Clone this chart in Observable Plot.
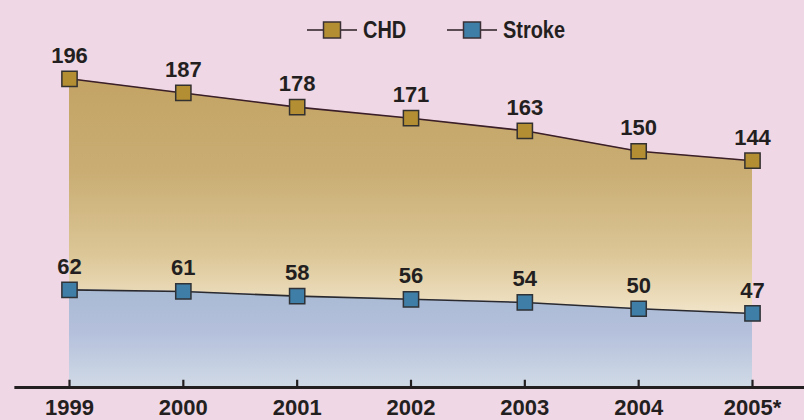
<!DOCTYPE html>
<html>
<head>
<meta charset="utf-8">
<script src="https://cdn.jsdelivr.net/npm/d3@7"></script>
<script src="https://cdn.jsdelivr.net/npm/@observablehq/plot@0.6"></script>
<style>
  html, body { margin: 0; padding: 0; background: #f0d7e5; width: 804px; height: 420px; overflow: hidden; }
  #legend { position: relative; height: 42px; width: 804px; font-family: "Liberation Sans", Arial, sans-serif; font-weight: bold; font-size: 24px; color: #231f20; }
  .item { position: absolute; top: 19px; display: flex; align-items: center; height: 22px; }
  .item svg { display: block; margin-right: 6px; }
  .item span { display: inline-block; transform: scaleX(0.83); transform-origin: left center; line-height: 22px; }
  #chart svg { display: block; overflow: visible; }
</style>
</head>
<body>
<div id="legend"></div>
<div id="chart"></div>
<script>
const years = [1999, 2000, 2001, 2002, 2003, 2004, 2005];
const yearLabels = ["1999", "2000", "2001", "2002", "2003", "2004", "2005*"];
const chdValues = [196, 187, 178, 171, 163, 150, 144];
const strokeValues = [62, 61, 58, 56, 54, 50, 47];
const seriesNames = ["CHD", "Stroke"];
const markerColors = ["#b38e33", "#3f7ea7"];

const rows = years.map((y, i) => ({year: y, label: yearLabels[i], chd: chdValues[i], stroke: strokeValues[i]}));

// Legend
const legend = document.getElementById("legend");
const legendLeft = [307, 447];
seriesNames.forEach((name, i) => {
  const div = document.createElement("div");
  div.className = "item";
  div.style.left = legendLeft[i] + "px";
  div.innerHTML = `<svg width="50" height="22"><line x1="0" x2="50" y1="11" y2="11" stroke="#2a1e22" stroke-width="1.5"/><rect x="16.5" y="3" width="17" height="16" fill="${markerColors[i]}" stroke="#3a3035" stroke-width="1.5"/></svg><span>${name}</span>`;
  legend.appendChild(div);
});

const font = "'Liberation Sans', Arial, sans-serif";

const plot = Plot.plot({
  width: 804,
  height: 378,
  marginLeft: 69,
  marginRight: 52,
  marginTop: 30,
  marginBottom: 33,
  x: {domain: [1999, 2005], axis: null},
  y: {domain: [0, 200], axis: null},
  style: {background: "transparent", fontFamily: font, overflow: "visible"},
  marks: [
    Plot.areaY(rows, {x: "year", y1: "stroke", y2: "chd", fill: "url(#gradChd)", curve: "linear"}),
    Plot.areaY(rows, {x: "year", y1: 0, y2: "stroke", fill: "url(#gradStroke)", curve: "linear"}),
    Plot.ruleY([0], {x1: 1998.52, x2: 2005.5, stroke: "#231f20", strokeWidth: 3}),
    Plot.ruleX(rows, {x: "year", y1: 0, y2: 4.6, stroke: "#231f20", strokeWidth: 2.2}),
    Plot.line(rows, {x: "year", y: "chd", stroke: "#3a1f2a", strokeWidth: 1.6}),
    Plot.line(rows, {x: "year", y: "stroke", stroke: "#2a2a2e", strokeWidth: 1.6}),
    Plot.dot(rows, {x: "year", y: "chd", symbol: "square", r: 8.6, fill: markerColors[0], stroke: "#333030", strokeWidth: 1.5}),
    Plot.dot(rows, {x: "year", y: "stroke", symbol: "square", r: 8.6, fill: markerColors[1], stroke: "#2f3236", strokeWidth: 1.5}),
    Plot.text(rows, {x: "year", y: "chd", text: d => String(d.chd), dy: -23, fontSize: 22, fontWeight: "bold", fill: "#231f20"}),
    Plot.text(rows, {x: "year", y: "stroke", text: d => String(d.stroke), dy: -23, fontSize: 22, fontWeight: "bold", fill: "#231f20"}),
    Plot.text(rows, {x: "year", y: 0, text: "label", dy: 20, fontSize: 22, fontWeight: "bold", fill: "#231f20"})
  ]
});

const defs = d3.select(plot).insert("defs", ":first-child");
const g1 = defs.append("linearGradient").attr("id", "gradChd").attr("x1", 0).attr("x2", 0).attr("y1", 0).attr("y2", 1);
g1.append("stop").attr("offset", "0%").attr("stop-color", "#c3a465");
g1.append("stop").attr("offset", "40%").attr("stop-color", "#c9ad73");
g1.append("stop").attr("offset", "75%").attr("stop-color", "#dcc697");
g1.append("stop").attr("offset", "100%").attr("stop-color", "#f1e4c8");
const g2 = defs.append("linearGradient").attr("id", "gradStroke").attr("x1", 0).attr("x2", 0).attr("y1", 0).attr("y2", 1);
g2.append("stop").attr("offset", "0%").attr("stop-color", "#a8bad3");
g2.append("stop").attr("offset", "45%").attr("stop-color", "#b5c0dc");
g2.append("stop").attr("offset", "100%").attr("stop-color", "#d0dae6");

document.getElementById("chart").appendChild(plot);
</script>
</body>
</html>
